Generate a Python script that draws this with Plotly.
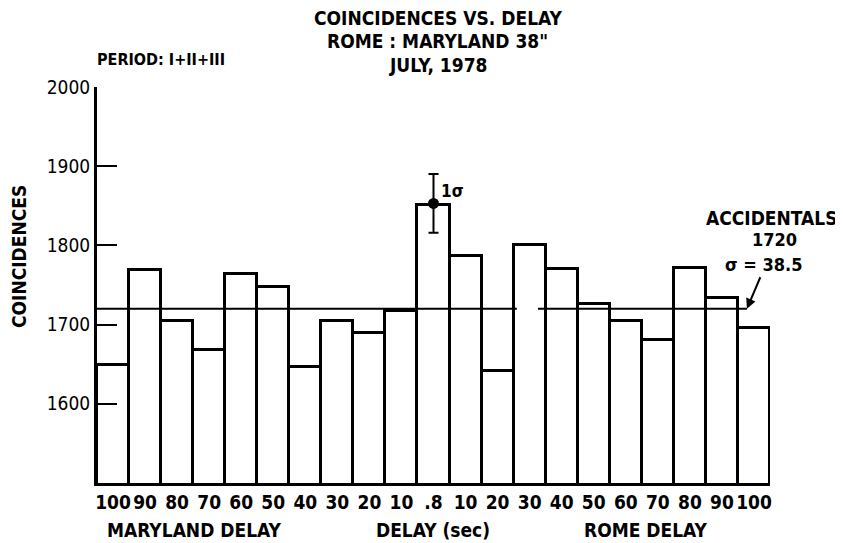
import plotly.graph_objects as go

# ---- data ----
tick_labels = ["100", "90", "80", "70", "60", "50", "40", "30", "20", "10", ".8",
               "10", "20", "30", "40", "50", "60", "70", "80", "90", "100"]
coincidences = [1649, 1769, 1705, 1668, 1764, 1748, 1647, 1705, 1689, 1717, 1851,
                1787, 1642, 1800, 1770, 1726, 1705, 1681, 1771, 1733, 1696]
accidentals = 1720
sigma_label = "σ = 38.5"
peak_point = 1853
peak_error = 37
y_ticks = [1600, 1700, 1800, 1900, 2000]

FONT = "Liberation Sans Narrow, DejaVu Sans Condensed, Arial Narrow, sans-serif"
positions = list(range(len(tick_labels)))
peak_idx = tick_labels.index(".8")

fig = go.Figure()
fig.add_trace(go.Bar(
    x=positions, y=coincidences, width=1,
    marker=dict(color="white", line=dict(color="black", width=3)),
    showlegend=False, hoverinfo="x+y",
))
# accidentals level line (two segments, small gap as in the original)
fig.add_trace(go.Scatter(
    x=[-0.5, 12.6, None, 13.26, 19.78],
    y=[accidentals, accidentals, None, accidentals, accidentals],
    mode="lines", line=dict(color="black", width=2),
    showlegend=False, hoverinfo="skip", connectgaps=False,
))
# peak with 1 sigma error bar
fig.add_trace(go.Scatter(
    x=[positions[peak_idx]], y=[peak_point], mode="markers",
    marker=dict(color="black", size=11, symbol="circle"),
    error_y=dict(type="data", array=[peak_error], color="black", thickness=2, width=5),
    showlegend=False,
))

ann = []
def txt(text, x, y, size=17, xanchor="center", xref="paper", yref="paper", textangle=0):
    ann.append(dict(text=text, x=x, y=y, xref=xref, yref=yref, xanchor=xanchor,
                    yanchor="middle", showarrow=False, textangle=textangle,
                    font=dict(family=FONT, size=size, color="black")))

txt("<b>COINCIDENCES VS. DELAY</b>", 0.506, 1.173, 19)
txt("<b>ROME : MARYLAND 38\"</b>", 0.506, 1.116, 19)
txt("<b>JULY, 1978</b>", 0.506, 1.056, 19)
txt("<b>PERIOD: I+II+III</b>", -0.003, 1.069, 16, xanchor="left")
txt("<b>COINCIDENCES</b>", -0.116, 0.573, 19, textangle=-90)
txt("<b>MARYLAND DELAY</b>", 0.144, -0.119, 19)
txt("<b>DELAY (sec)</b>", 0.499, -0.119, 19)
txt("<b>ROME DELAY</b>", 0.816, -0.119, 19)
txt("<b>ACCIDENTALS</b>", 1.002, 0.668, 19)
txt(f"<b>{accidentals}</b>", 1.007, 0.614, 18)
txt(f"<b>{sigma_label}</b>", 0.990, 0.553, 18)
txt("<b>1σ</b>", 10.58, 1869, 17, xref="x", yref="y")
ann.append(dict(x=19.78, y=accidentals, xref="x", yref="y", text="", showarrow=True,
                ax=14, ay=-33, arrowhead=2, arrowwidth=2, arrowcolor="black"))

# the page body adds an ~8px offset, so the figure is sized/margined to compensate
fig.update_layout(
    width=835, height=535,
    margin=dict(l=89, r=73, t=79, b=60),
    paper_bgcolor="white", plot_bgcolor="white",
    bargap=0,
    annotations=ann,
    font=dict(family=FONT, color="black"),
    xaxis=dict(range=[-0.5, 20.5], tickvals=positions, ticktext=[f"<b>{t}</b>" for t in tick_labels],
               tickangle=0, showline=True, linecolor="black", linewidth=3,
               ticks="", showgrid=False, zeroline=False,
               tickfont=dict(family=FONT, size=19, color="black")),
    yaxis=dict(range=[1500, 2000], tickvals=y_ticks, showline=True, linecolor="black",
               linewidth=3, ticks="inside", ticklen=20, tickwidth=2, tickcolor="black",
               showgrid=False, zeroline=False,
               tickfont=dict(family=FONT, size=19, color="black")),
)

fig.write_html("out.html")
